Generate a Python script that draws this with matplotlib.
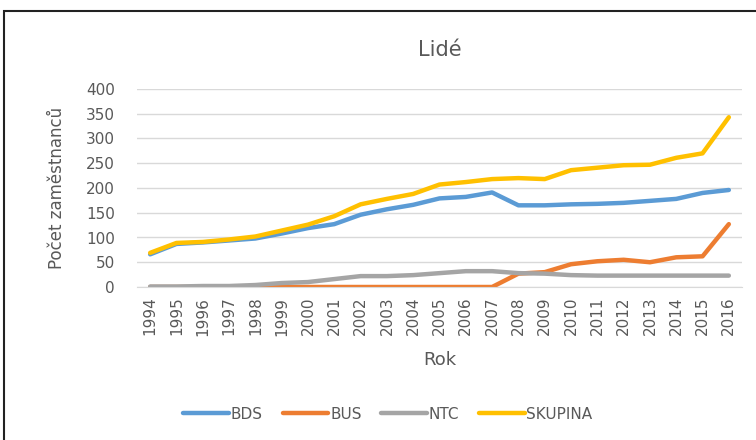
import matplotlib.pyplot as plt
from matplotlib.patches import Rectangle

years = [str(y) for y in range(1994, 2017)]
bds = [66, 87, 90, 94, 98, 108, 119, 127, 146, 157, 166, 179, 182, 191,
       165, 165, 167, 168, 170, 174, 178, 190, 196]
bus = [0, 0, 0, 0, 0, 0, 0, 0, 0, 0, 0, 0, 0, 0,
       27, 30, 46, 52, 55, 50, 60, 62, 127]
ntc = [1, 1, 2, 2, 4, 8, 10, 16, 22, 22, 24, 28, 32, 32,
       28, 27, 24, 23, 23, 23, 23, 23, 23]
skupina = [69, 89, 91, 96, 102, 114, 126, 143, 167, 178, 188, 207, 212, 218,
           220, 218, 236, 241, 246, 247, 261, 270, 343]

series = [("BDS", bds, "#5B9BD5"), ("BUS", bus, "#ED7D31"),
          ("NTC", ntc, "#A5A5A5"), ("SKUPINA", skupina, "#FFC000")]

plt.rcParams['font.family'] = ['Liberation Sans Narrow', 'DejaVu Sans']
txt = "#595959"

fig = plt.figure(figsize=(7.56, 4.4), dpi=100)
ax = fig.add_axes([137/756, 1-287/440, 605/756, 198/440])

x = range(len(years))
for name, vals, col in series:
    ax.plot(x, vals, color=col, lw=3.2, label=name, solid_capstyle='round', solid_joinstyle='round')

ax.set_xlim(-0.5, len(years)-0.5)
ax.set_ylim(0, 400)
ax.set_yticks(range(0, 401, 50))
ax.set_xticks(list(x))
ax.set_xticklabels(years, rotation=90)
ax.tick_params(length=0, labelsize=11, colors=txt)
ax.tick_params(axis='y', pad=16)
ax.tick_params(axis='x', pad=7)
ax.grid(axis='y', color='#D9D9D9', lw=1)
ax.set_axisbelow(True)
for s in ['top', 'right', 'left']:
    ax.spines[s].set_visible(False)
ax.spines['bottom'].set_color('#D9D9D9')

ax.set_title("Lidé", fontsize=15, color=txt, pad=24)
ax.set_xlabel("Rok", fontsize=13, color=txt, labelpad=11)
ax.set_ylabel("Počet zaměstnanců", fontsize=12, color=txt, labelpad=14, family='DejaVu Sans')

fig.legend(loc='center', bbox_to_anchor=(388/756, 1-414/440), ncol=4, frameon=False,
           handlelength=3.0, columnspacing=1.3, handletextpad=0.1, fontsize=11,
           labelcolor=txt)

fig.patches.append(Rectangle((4/756, -0.1), 1.2, 1.1 - 11/440, transform=fig.transFigure,
                             fill=False, edgecolor='#222222', lw=1.5))

fig.savefig("out.png", dpi=100)
